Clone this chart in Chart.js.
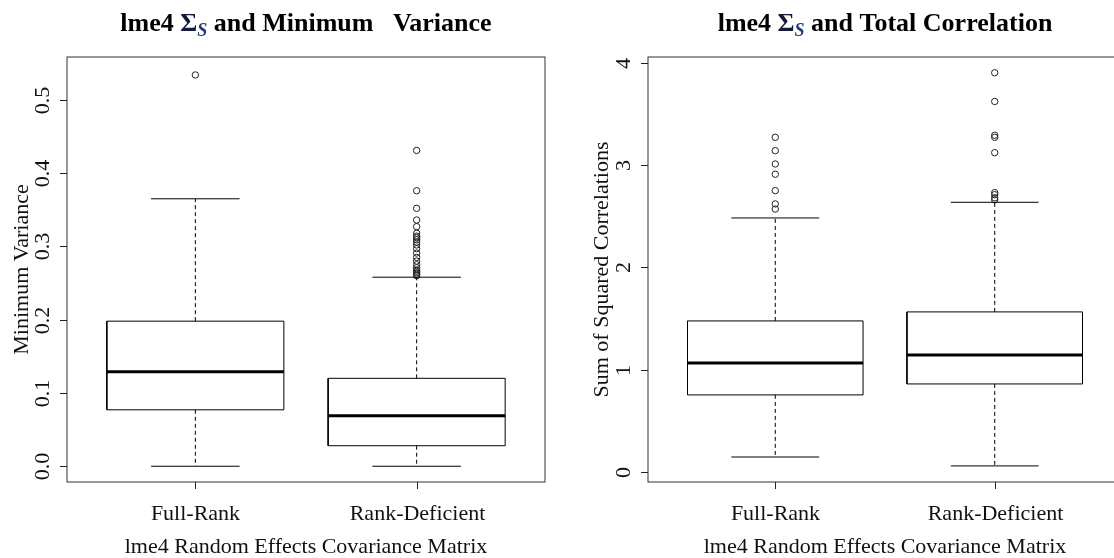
<!DOCTYPE html>
<html>
<head>
<meta charset="utf-8">
<script src="https://cdn.jsdelivr.net/npm/chart.js@4.4.1/dist/chart.umd.min.js"></script>
<style>
  html, body { margin: 0; padding: 0; background: #fff; overflow: hidden; }
  body { width: 1114px; height: 558px; position: relative; }
  canvas { position: absolute; top: 0; }
  #mvChart { left: 0; }
  #scChart { left: 557px; }
</style>
</head>
<body>
<canvas id="mvChart" width="557" height="558"></canvas>
<canvas id="scChart" width="570" height="558"></canvas>
<script>
// 組別
const groups = ['Full-Rank', 'Rank-Deficient'];
const xTitle = 'lme4 Random Effects Covariance Matrix';

// 左圖：Minimum Variance
const mvLow = [0.0, 0.0];
const mvQ1 = [0.077, 0.028];
const mvMedian = [0.129, 0.069];
const mvQ3 = [0.198, 0.120];
const mvHigh = [0.365, 0.258];
const mvOutFull = [0.534];
const mvOutDef = [0.260, 0.262, 0.264, 0.266, 0.268, 0.271, 0.275, 0.280, 0.285, 0.291,
                  0.297, 0.302, 0.306, 0.309, 0.312, 0.314, 0.318, 0.327, 0.336, 0.352,
                  0.376, 0.431];
const mvTicks = [0.0, 0.1, 0.2, 0.3, 0.4, 0.5];
const mvTickLabels = ['0.0', '0.1', '0.2', '0.3', '0.4', '0.5'];

// 右圖：Sum of Squared Correlations
const scLow = [0.150, 0.063];
const scQ1 = [0.756, 0.863];
const scMedian = [1.068, 1.146];
const scQ3 = [1.478, 1.566];
const scHigh = [2.483, 2.636];
const scOutFull = [2.57, 2.62, 2.75, 2.91, 3.01, 3.14, 3.27];
const scOutDef = [2.66, 2.68, 2.71, 2.73, 3.12, 3.27, 3.29, 3.62, 3.90];
const scTicks = [0, 1, 2, 3, 4];
const scTickLabels = ['0', '1', '2', '3', '4'];

const SERIF = '"Liberation Serif", "DejaVu Serif", serif';
const HALF = 0.4;   // 盒子半寬 (x 單位)
const CAP = 0.2;    // 鬚端半寬

// 由四分位數建立線段資料集
function boxDatasets(low, q1, med, q3, high, outFull, outDef) {
    const box = [], medLine = [], whisk = [], caps = [];
    groups.forEach((g, i) => {
        const x = i + 1;
        box.push({ x: x - HALF, y: q1[i] }, { x: x + HALF, y: q1[i] },
                 { x: x + HALF, y: q3[i] }, { x: x - HALF, y: q3[i] },
                 { x: x - HALF, y: q1[i] }, { x: x, y: null });
        medLine.push({ x: x - HALF, y: med[i] }, { x: x + HALF, y: med[i] }, { x: x, y: null });
        whisk.push({ x: x, y: q3[i] }, { x: x, y: high[i] }, { x: x, y: null },
                   { x: x, y: q1[i] }, { x: x, y: low[i] }, { x: x, y: null });
        caps.push({ x: x - CAP, y: high[i] }, { x: x + CAP, y: high[i] }, { x: x, y: null },
                  { x: x - CAP, y: low[i] }, { x: x + CAP, y: low[i] }, { x: x, y: null });
    });
    const outliers = [
        ...outFull.map(v => ({ x: 1, y: v })),
        ...outDef.map(v => ({ x: 2, y: v }))
    ];
    const seg = (data, width, dash) => ({
        data: data, borderColor: '#000', borderWidth: width, borderDash: dash || [],
        pointRadius: 0, spanGaps: false, tension: 0, borderJoinStyle: 'miter', borderCapStyle: 'butt'
    });
    return [
        seg(whisk, 1, [4, 3]),
        seg(caps, 1),
        seg(box, 1),
        seg(medLine, 3),
        {
            data: outliers, showLine: false, pointRadius: 3.2, pointBorderWidth: 1,
            pointBackgroundColor: 'rgba(0,0,0,0)', pointBorderColor: '#222'
        }
    ];
}

// 外框、刻度與文字
const framePlugin = {
    id: 'rframe',
    afterDraw(chart, args, opts) {
        const { ctx, chartArea: a, scales } = chart;
        ctx.save();
        ctx.strokeStyle = '#333';
        ctx.lineWidth = 1;
        ctx.strokeRect(a.left, a.top, a.right - a.left, a.bottom - a.top);

        ctx.fillStyle = '#111';
        ctx.strokeStyle = '#222';
        // x 軸刻度
        ctx.font = '22px ' + SERIF;
        ctx.textAlign = 'center';
        ctx.textBaseline = 'alphabetic';
        groups.forEach((g, i) => {
            const px = Math.round(scales.x.getPixelForValue(i + 1)) + 0.5;
            ctx.beginPath();
            ctx.moveTo(px, a.bottom);
            ctx.lineTo(px, a.bottom + 7);
            ctx.stroke();
            ctx.fillText(g, px, a.bottom + 38);
        });
        ctx.fillText(xTitle, (a.left + a.right) / 2, 553);

        // y 軸刻度（文字旋轉）
        opts.ticks.forEach((v, i) => {
            const py = Math.round(scales.y.getPixelForValue(v)) + 0.5;
            ctx.beginPath();
            ctx.moveTo(a.left - 7, py);
            ctx.lineTo(a.left, py);
            ctx.stroke();
            ctx.save();
            ctx.translate(a.left - 24, py);
            ctx.rotate(-Math.PI / 2);
            ctx.textBaseline = 'middle';
            ctx.fillText(opts.tickLabels[i], 0, 0);
            ctx.restore();
        });
        ctx.save();
        ctx.translate(opts.yTitleX, (a.top + a.bottom) / 2);
        ctx.rotate(-Math.PI / 2);
        ctx.textBaseline = 'middle';
        ctx.fillText(opts.yTitle, 0, 0);
        ctx.restore();

        // 標題：lme4 Σ_S and ...
        const parts = [
            { t: 'lme4 ', f: 'bold 26px ' + SERIF, dy: 0, c: '#000' },
            { t: 'Σ', f: 'bold 26px ' + SERIF, dy: 0, c: '#15193a' },
            { t: 'S', f: 'italic bold 18px ' + SERIF, dy: 5, c: '#203a78' },
            { t: ' and ' + opts.titleRest, f: 'bold 26px ' + SERIF, dy: 0, c: '#000' }
        ];
        let total = 0;
        parts.forEach(p => { ctx.font = p.f; p.w = ctx.measureText(p.t).width; total += p.w; });
        let tx = (a.left + a.right) / 2 - total / 2;
        ctx.textAlign = 'left';
        ctx.textBaseline = 'alphabetic';
        parts.forEach(p => {
            ctx.font = p.f;
            ctx.fillStyle = p.c;
            ctx.fillText(p.t, tx, 31 + p.dy);
            tx += p.w;
        });
        ctx.restore();
    }
};

function makeChart(id, datasets, yMin, yMax, padding, opts) {
    return new Chart(document.getElementById(id), {
        type: 'line',
        data: { datasets: datasets },
        options: {
            responsive: false,
            animation: false,
            devicePixelRatio: 1,
            layout: { padding: padding },
            plugins: { legend: { display: false }, tooltip: { enabled: false }, rframe: opts },
            scales: {
                x: { type: 'linear', min: 0.42, max: 2.58, display: false },
                y: { type: 'linear', min: yMin, max: yMax, display: false }
            }
        },
        plugins: [framePlugin]
    });
}

makeChart('mvChart',
    boxDatasets(mvLow, mvQ1, mvMedian, mvQ3, mvHigh, mvOutFull, mvOutDef),
    -0.0215, 0.5585,
    { left: 67, top: 57, right: 12, bottom: 76 },
    { ticks: mvTicks, tickLabels: mvTickLabels, yTitle: 'Minimum Variance', yTitleX: 22,
      titleRest: 'Minimum   Variance' });

makeChart('scChart',
    boxDatasets(scLow, scQ1, scMedian, scQ3, scHigh, scOutFull, scOutDef),
    -0.094, 4.054,
    { left: 91, top: 57, right: 1, bottom: 76 },
    { ticks: scTicks, tickLabels: scTickLabels, yTitle: 'Sum of Squared Correlations', yTitleX: 45,
      titleRest: 'Total Correlation' });
</script>
</body>
</html>
